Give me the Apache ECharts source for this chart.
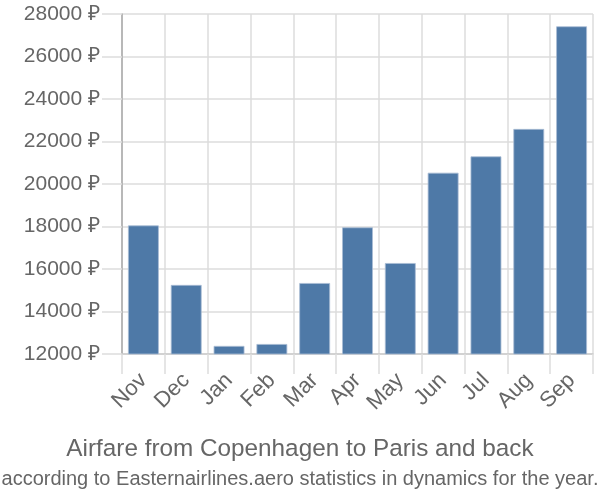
<!DOCTYPE html>
<html><head><meta charset="utf-8">
<script src="https://cdn.jsdelivr.net/npm/echarts@6/dist/echarts.min.js"></script>
<style>html,body{margin:0;padding:0;background:#fff}#c{width:600px;height:500px}</style>
</head><body><div id="c"></div>
<script>
const months = ['Nov','Dec','Jan','Feb','Mar','Apr','May','Jun','Jul','Aug','Sep'];
const prices = [18050, 15250, 12380, 12470, 15340, 17960, 16280, 20530, 21300, 22590, 27420];
const yMin = 12000, yMax = 28000, yStep = 2000;
const titleText = 'Airfare from Copenhagen to Paris and back';
const subText = 'according to Easternairlines.aero statistics in dynamics for the year.';

const chart = echarts.init(document.getElementById('c'), null, {renderer: 'canvas'});
chart.setOption({
  animation: false,
  textStyle: {fontFamily: 'Liberation Sans, Arial, sans-serif'},
  title: [
    {text: titleText, left: 'center', top: 432,
     textStyle: {fontSize: 24.3, fontWeight: 'normal', color: '#666'}},
    {text: subText, left: 'center', top: 464,
     textStyle: {fontSize: 20, fontWeight: 'normal', color: '#666'}}
  ],
  grid: {left: 122, right: 7, top: 14, bottom: 146, containLabel: false},
  xAxis: {
    type: 'category', data: months, boundaryGap: true,
    axisLine: {lineStyle: {color: '#ccc', width: 1.5}},
    axisTick: {show: true, length: 20, lineStyle: {color: '#ddd', width: 1.5}},
    splitLine: {show: true, lineStyle: {color: '#ddd', width: 1.5}},
    axisLabel: {rotate: 45, fontSize: 22, color: '#666', margin: 23}
  },
  yAxis: {
    type: 'value', min: yMin, max: yMax, interval: yStep,
    axisLine: {show: true, lineStyle: {color: '#aaa', width: 1.5}},
    axisTick: {show: true, length: 20, lineStyle: {color: '#ddd', width: 1.5}},
    splitLine: {show: true, lineStyle: {color: '#ddd', width: 1.5}},
    axisLabel: {formatter: v => v + ' ₽', fontSize: 21, color: '#666', margin: 22}
  },
  series: [{
    type: 'bar', data: prices, barWidth: '72%',
    itemStyle: {color: '#4e79a7', borderColor: '#a9bdd4', borderWidth: 0.8}
  }]
});
</script></body></html>
